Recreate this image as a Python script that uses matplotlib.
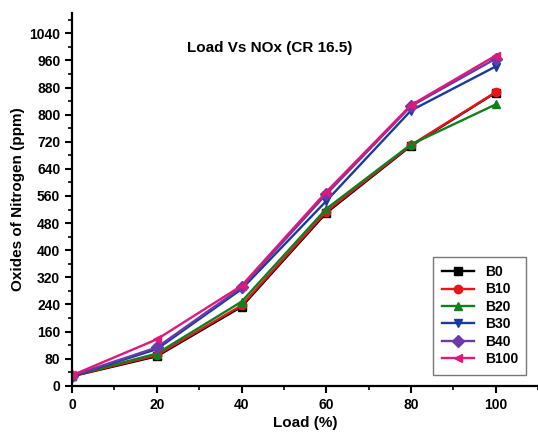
import numpy as np
import matplotlib.pyplot as plt
from matplotlib.ticker import MultipleLocator

plt.rcParams['font.family'] = ['Liberation Sans', 'DejaVu Sans']
plt.rcParams['font.weight'] = 'bold'

load = [0, 20, 40, 60, 80, 100]
series = ['B0', 'B10', 'B20', 'B30', 'B40', 'B100']
b0 = [28, 87, 233, 510, 708, 865]
b10 = [29, 90, 237, 514, 710, 866]
b20 = [30, 95, 248, 522, 712, 830]
b30 = [29, 108, 285, 545, 812, 942]
b40 = [30, 113, 290, 565, 825, 965]
b100 = [31, 137, 295, 572, 828, 974]

colors = ['#000000', '#e8141c', '#10801e', '#1a3a9c', '#6a3aa8', '#e0187a']
markers = ['s', 'o', '^', 'v', 'D', '<']

fig = plt.figure(figsize=(5.38, 4.32), dpi=100)
ax = fig.add_axes([0.134, 0.107, 0.866, 0.863])

for name, vals, c, m in zip(series, [b0, b10, b20, b30, b40, b100], colors, markers):
    ax.plot(load, vals, color=c, marker=m, markersize=6, linewidth=1.7, label=name)

ax.set_xlim(0, 110)
ax.set_ylim(0, 1100)
ax.xaxis.set_minor_locator(MultipleLocator(10))
ax.yaxis.set_minor_locator(MultipleLocator(40))
ax.set_xticks(range(0, 101, 20))
ax.set_yticks(range(0, 1041, 80))
ax.tick_params(which='major', direction='out', length=5, width=1.5, labelsize=10)
ax.tick_params(which='minor', direction='out', length=3, width=1.2)
for s in ['top', 'right']:
    ax.spines[s].set_visible(False)
for s in ['left', 'bottom']:
    ax.spines[s].set_linewidth(1.6)

ax.set_xlabel('Load (%)', fontsize=11, fontweight='bold', labelpad=3)
ax.set_ylabel('Oxides of Nitrogen (ppm)', fontsize=11, fontweight='bold', labelpad=3)
ax.text(0.425, 0.906, 'Load Vs NOx (CR 16.5)', transform=ax.transAxes,
        ha='center', va='center', fontsize=11, fontweight='bold')

leg = ax.legend(loc='lower right', bbox_to_anchor=(0.975, 0.03), borderaxespad=0,
                fontsize=10, frameon=True, fancybox=False, edgecolor='#555555',
                handlelength=2.3, labelspacing=0.25, borderpad=0.6)
leg.get_frame().set_linewidth(1.0)

plt.savefig('out.png', dpi=100)
